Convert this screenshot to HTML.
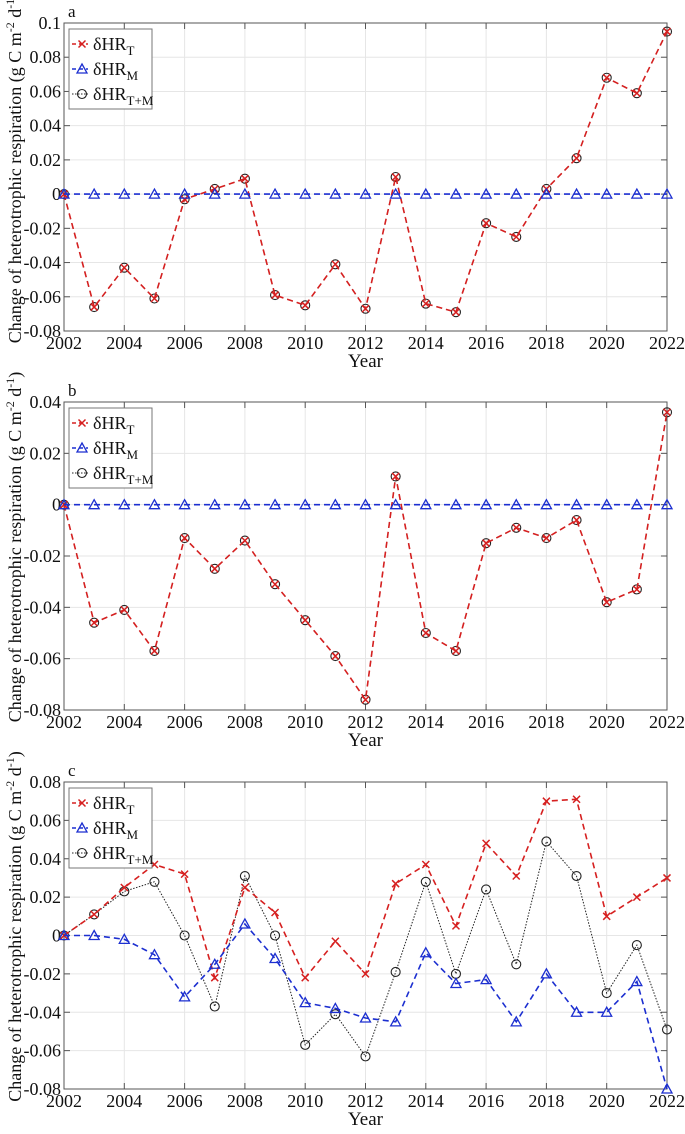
<!DOCTYPE html>
<html><head><meta charset="utf-8">
<style>
html,body{margin:0;padding:0;background:#fff;}
svg{display:block;}
svg text{font-family:"Liberation Serif",serif;}
</style></head>
<body>
<svg id="chart" width="685" height="1134" viewBox="0 0 685 1134" xmlns="http://www.w3.org/2000/svg"></svg>
<script>
const years = [2002,2003,2004,2005,2006,2007,2008,2009,2010,2011,2012,2013,2014,2015,2016,2017,2018,2019,2020,2021,2022];
const aT = [0,-0.066,-0.043,-0.061,-0.003,0.003,0.009,-0.059,-0.065,-0.041,-0.067,0.010,-0.064,-0.069,-0.017,-0.025,0.003,0.021,0.068,0.059,0.095];
const aM = [0,0,0,0,0,0,0,0,0,0,0,0,0,0,0,0,0,0,0,0,0];
const aTM = [0,-0.066,-0.043,-0.061,-0.003,0.003,0.009,-0.059,-0.065,-0.041,-0.067,0.010,-0.064,-0.069,-0.017,-0.025,0.003,0.021,0.068,0.059,0.095];
const bT = [0,-0.046,-0.041,-0.057,-0.013,-0.025,-0.014,-0.031,-0.045,-0.059,-0.076,0.011,-0.050,-0.057,-0.015,-0.009,-0.013,-0.006,-0.038,-0.033,0.036];
const bM = [0,0,0,0,0,0,0,0,0,0,0,0,0,0,0,0,0,0,0,0,0];
const bTM = [0,-0.046,-0.041,-0.057,-0.013,-0.025,-0.014,-0.031,-0.045,-0.059,-0.076,0.011,-0.050,-0.057,-0.015,-0.009,-0.013,-0.006,-0.038,-0.033,0.036];
const cT = [0,0.011,0.025,0.037,0.032,-0.022,0.025,0.012,-0.022,-0.003,-0.020,0.027,0.037,0.005,0.048,0.031,0.070,0.071,0.010,0.020,0.030];
const cM = [0,0,-0.002,-0.010,-0.032,-0.015,0.006,-0.012,-0.035,-0.038,-0.043,-0.045,-0.009,-0.025,-0.023,-0.045,-0.020,-0.040,-0.040,-0.024,-0.080];
const cTM = [0,0.011,0.023,0.028,0,-0.037,0.031,0,-0.057,-0.041,-0.063,-0.019,0.028,-0.020,0.024,-0.015,0.049,0.031,-0.030,-0.005,-0.049];
const xTicks = [2002,2004,2006,2008,2010,2012,2014,2016,2018,2020,2022];
const aTicks = [-0.08,-0.06,-0.04,-0.02,0,0.02,0.04,0.06,0.08,0.1];
const bTicks = [-0.08,-0.06,-0.04,-0.02,0,0.02,0.04];
const cTicks = [-0.08,-0.06,-0.04,-0.02,0,0.02,0.04,0.06,0.08];

const NS="http://www.w3.org/2000/svg";
const svg=document.getElementById('chart');
function mk(tag,attrs,parent){const e=document.createElementNS(NS,tag);for(const k in attrs)e.setAttribute(k,attrs[k]);(parent||svg).appendChild(e);return e;}
function fmt(v){if(Math.abs(v)<1e-9)return '0';let s=v.toFixed(2);s=s.replace(/0+$/,'').replace(/\.$/,'');return s;}

const L=64,R=667;
function panel(letter,top,bot,ymin,ymax,ticks,T,M,TM,legendTop,c){
  const g=mk('g',{});
  
  
  const x=v=>L+(v-2002)/(20)*(R-L);
  const y=v=>bot-(v-ymin)/(ymax-ymin)*(bot-top);
  xTicks.forEach(t=>{mk('line',{x1:x(t),x2:x(t),y1:top,y2:bot,stroke:'#e6e6e6','stroke-width':1},g);});
  ticks.forEach(t=>{mk('line',{x1:L,x2:R,y1:y(t),y2:y(t),stroke:'#e6e6e6','stroke-width':1},g);});
  mk('rect',{x:L,y:top,width:R-L,height:bot-top,fill:'none',stroke:'#555','stroke-width':1},g);
  xTicks.forEach(t=>{
    mk('line',{x1:x(t),x2:x(t),y1:bot,y2:bot-6,stroke:'#555'},g);
    mk('line',{x1:x(t),x2:x(t),y1:top,y2:top+6,stroke:'#555'},g);
    const tx=mk('text',{x:x(t),y:bot+18,'font-size':18,'text-anchor':'middle',fill:'#111'},g);
    
    
    tx.textContent=t;
  });
  ticks.forEach(t=>{
    mk('line',{x1:L,x2:L+6,y1:y(t),y2:y(t),stroke:'#555'},g);
    mk('line',{x1:R,x2:R-6,y1:y(t),y2:y(t),stroke:'#555'},g);
    const tx=mk('text',{x:L-3,y:y(t)+6,'font-size':18,'text-anchor':'end',fill:'#111'},g);
    
    
    tx.textContent=fmt(t);
  });
  const lt=mk('text',{x:L+4,y:top-6,'font-size':17,fill:'#111'},g);
  
  
  lt.textContent=letter;
  const xl=mk('text',{x:(L+R)/2,y:bot+36,'font-size':19,'text-anchor':'middle',fill:'#111'},g);
  
  
  xl.textContent='Year';
  const cy=(top+bot)/2-9;
  const yl=mk('text',{x:0,y:0,'font-size':18,'text-anchor':'middle',fill:'#111',transform:`translate(21,${cy}) rotate(-90)`},g);
  
  
  yl.innerHTML='Change of heterotrophic respiration (g C m<tspan dy="-7" font-size="12">-2</tspan><tspan dy="7"> d</tspan><tspan dy="-7" font-size="12">-1</tspan><tspan dy="7">)</tspan>';
  const series=[
    {d:T,col:'#d62020',dash:'6,4',w:1.6,mark:'x',name:'series-t'},
    {d:M,col:'#1c2fd0',dash:'6,4',w:1.6,mark:'tri',name:'series-m'},
    {d:TM,col:'#222',dash:c?'1.5,1.5':'6,4',w:1,mark:'o',name:'series-tm'}];
  function marker(gg,m,px,py,col){
    if(m==='x'){mk('path',{d:`M${px-3.5},${py-3.5}L${px+3.5},${py+3.5}M${px-3.5},${py+3.5}L${px+3.5},${py-3.5}`,stroke:col,'stroke-width':1.5,fill:'none'},gg);}
    else if(m==='tri'){mk('path',{d:`M${px},${py-5}L${px+5},${py+4}L${px-5},${py+4}Z`,stroke:col,'stroke-width':1.3,fill:'none'},gg);}
    else {mk('circle',{cx:px,cy:py,r:4.5,stroke:col,'stroke-width':1.1,fill:'none'},gg);}
  }
  [2,0,1].forEach(i=>{
    const s=series[i];
    const sg=mk('g',{},g);
    
    
    const pts=s.d.map((v,k)=>x(years[k]).toFixed(1)+','+y(v).toFixed(1)).join(' ');
    mk('polyline',{points:pts,fill:'none',stroke:s.col,'stroke-width':s.w,'stroke-dasharray':s.dash},sg);
    s.d.forEach((v,k)=>marker(sg,s.mark,x(years[k]),y(v),s.col));
  });
  const lg=mk('g',{},g);
  
  
  mk('rect',{x:69,y:legendTop,width:83,height:80,fill:'#fff',stroke:'#777','stroke-width':1},lg);
  const labels=['T','M','T+M'];
  series.forEach((s,i)=>{
    const yy=legendTop+15+i*25;
    const e=mk('g',{},lg);
    
    
    mk('line',{x1:72,x2:88,y1:yy,y2:yy,stroke:s.col,'stroke-width':s.w,'stroke-dasharray':i==2?'1.5,1.5':'4,3'},e);
    marker(e,s.mark,82,yy,s.col);
    const t=mk('text',{x:93,y:yy+6,'font-size':18,fill:'#111'},e);
    t.innerHTML='δHR<tspan dy="5" font-size="13">'+labels[i]+'</tspan>';
  });
}
panel('a',23,331,-0.08,0.1,aTicks,aT,aM,aTM,29,false);
panel('b',402,710,-0.08,0.04,bTicks,bT,bM,bTM,408,false);
panel('c',782,1089,-0.08,0.08,cTicks,cT,cM,cTM,788,true);
</script>
</body></html>
